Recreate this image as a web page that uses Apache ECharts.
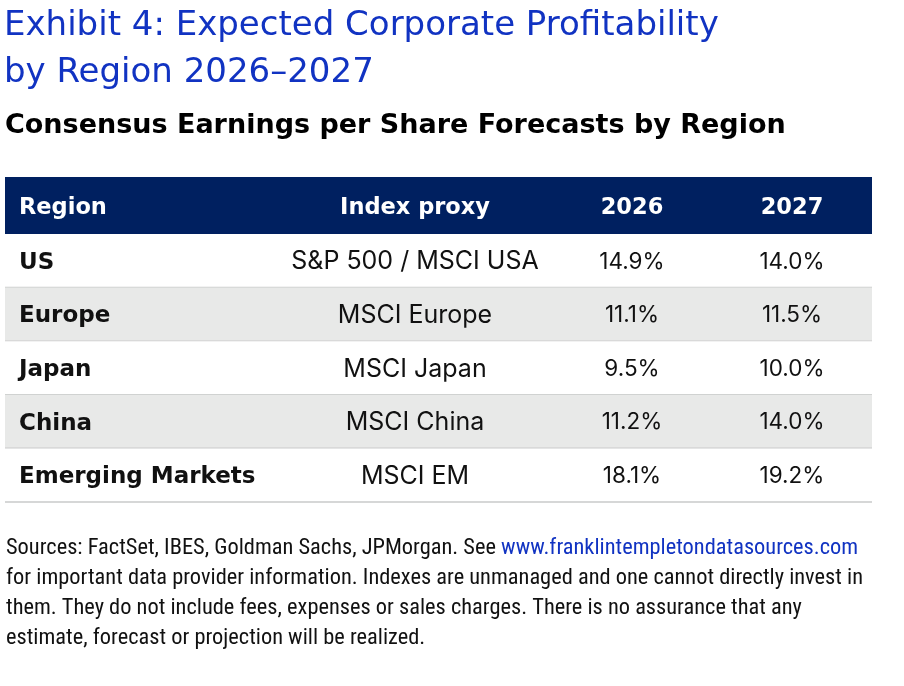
<!DOCTYPE html>
<html>
<head>
<meta charset="utf-8">
<script src="https://cdn.jsdelivr.net/npm/echarts@6/dist/echarts.min.js"></script>
<style>
html,body{margin:0;padding:0;background:#fff;}
#chart{width:904px;height:686px;}
</style>
</head>
<body>
<div id="chart"></div>
<script>
// ---- data ----
const titleText = 'Exhibit 4: Expected Corporate Profitability\nby Region 2026\u20132027';
const subtitleText = 'Consensus Earnings per Share Forecasts by Region';
const columns = ['Region', 'Index proxy', '2026', '2027'];
const regions = ['US', 'Europe', 'Japan', 'China', 'Emerging Markets'];
const proxies = ['S&P 500 / MSCI USA', 'MSCI Europe', 'MSCI Japan', 'MSCI China', 'MSCI EM'];
const eps2026 = [14.9, 11.1, 9.5, 11.2, 18.1];
const eps2027 = [14.0, 11.5, 10.0, 14.0, 19.2];
const sourceLines = [
  'Sources: FactSet, IBES, Goldman Sachs, JPMorgan. See ',
  'www.franklintempletondatasources.com',
  'for important data provider information. Indexes are unmanaged and one cannot directly invest in',
  'them. They do not include fees, expenses or sales charges. There is no assurance that any',
  'estimate, forecast or projection will be realized.'
];

// ---- layout / style ----
const W = 904, H = 686;
const TABLE_LEFT = 5, TABLE_RIGHT = 872;
const HEADER_TOP = 177, BODY_TOP = 234, BODY_BOTTOM = 502;
const colEdges = [5, 278, 552, 712, 872];
const NAVY = '#002060', BLUE = '#1133c2', GRAY = '#e8e9e8', LINE = '#c9caca';
const WIDE = '"DejaVu Sans", sans-serif';
const BODY = 'Inter, "Noto Sans", sans-serif';
const FOOT = '"Roboto Condensed", Roboto, sans-serif';

const chart = echarts.init(document.getElementById('chart'), null, {renderer: 'canvas'});

function cellX(col) {
  if (col === 0) return colEdges[0] + 14;
  return (colEdges[col] + colEdges[col + 1]) / 2;
}

function cellFont(col) {
  if (col === 0) return {fontSize: 23, fontFamily: WIDE, fontWeight: 'bold'};
  if (col === 1) return {fontSize: 25, fontFamily: BODY, fontWeight: 'normal'};
  return {fontSize: 22.5, fontFamily: BODY, fontWeight: 'normal'};
}

function renderItem(params, api) {
  const i = api.value(1);
  const c = api.coord([0, i]);
  const h = api.size([0, 1])[1];
  const cs = params.coordSys;
  const top = c[1] - h / 2;
  const children = [
    {type: 'rect', shape: {x: cs.x, y: top, width: cs.width, height: h}, style: {fill: i % 2 ? GRAY : '#ffffff'}},
    {type: 'line', shape: {x1: cs.x, y1: top + h, x2: cs.x + cs.width, y2: top + h}, style: {stroke: LINE, lineWidth: 1.6}}
  ];
  const texts = [regions[i], proxies[i], eps2026[i].toFixed(1) + '%', eps2027[i].toFixed(1) + '%'];
  texts.forEach((t, col) => {
    children.push({
      type: 'text',
      style: Object.assign({
        text: t, x: cellX(col), y: c[1] + (col === 0 ? 2 : 1),
        align: col === 0 ? 'left' : 'center', verticalAlign: 'middle', fill: '#111'
      }, cellFont(col))
    });
  });
  return {type: 'group', children: children};
}

const graphics = [
  {type: 'rect', shape: {x: TABLE_LEFT, y: HEADER_TOP, width: TABLE_RIGHT - TABLE_LEFT, height: BODY_TOP - HEADER_TOP}, style: {fill: NAVY}, z: 10}
];
columns.forEach((t, col) => {
  graphics.push({
    type: 'text', z: 11,
    style: {
      text: t, x: cellX(col), y: (HEADER_TOP + BODY_TOP) / 2 + 3,
      align: col === 0 ? 'left' : 'center', verticalAlign: 'middle',
      fontSize: 22.5, fontFamily: WIDE, fontWeight: 'bold', fill: '#ffffff'
    }
  });
});
graphics.push({
  type: 'text', z: 11, left: 6, top: 537,
  style: {
    text: '{t|' + sourceLines[0] + '}{l|' + sourceLines[1] + '}\n{t|' + sourceLines[2] + '}\n{t|' + sourceLines[3] + '}\n{t|' + sourceLines[4] + '}',
    rich: {
      t: {fontSize: 22.4, fontFamily: FOOT, fill: '#111', lineHeight: 30},
      l: {fontSize: 22.4, fontFamily: FOOT, fill: BLUE, lineHeight: 30}
    }
  }
});

const option = {
  animation: false,
  backgroundColor: '#ffffff',
  title: [
    {text: titleText, left: 4, top: 3, padding: 0, textStyle: {fontSize: 34, fontWeight: 'normal', color: BLUE, fontFamily: WIDE, lineHeight: 47}},
    {text: subtitleText, left: 5, top: 111, padding: 0, textStyle: {fontSize: 27, fontWeight: 'bold', color: '#000', fontFamily: WIDE, lineHeight: 30}}
  ],
  grid: {left: TABLE_LEFT, right: W - TABLE_RIGHT, top: BODY_TOP, bottom: H - BODY_BOTTOM},
  xAxis: {type: 'value', min: 0, max: 1, show: false},
  yAxis: {type: 'category', data: regions, inverse: true, show: false},
  graphic: graphics,
  series: [{
    type: 'custom',
    renderItem: renderItem,
    data: regions.map((r, i) => [0, i]),
    encode: {x: 0, y: 1},
    silent: true
  }]
};
chart.setOption(option);
</script>
</body>
</html>
